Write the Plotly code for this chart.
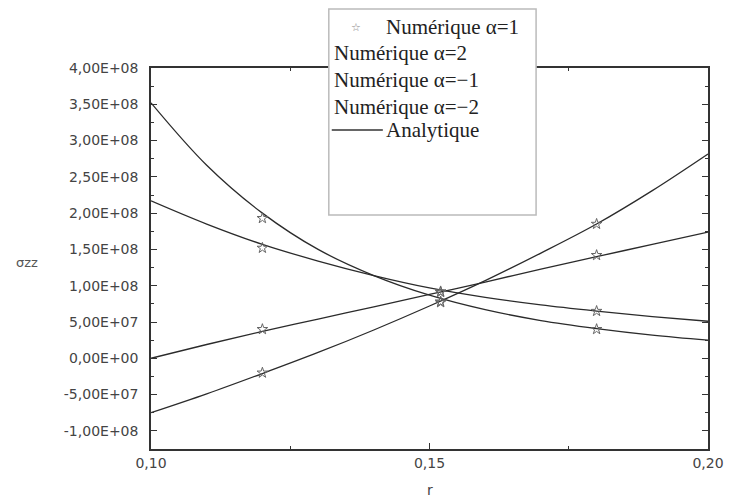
import plotly.graph_objects as go

# ---------------- data ----------------
r_analytic = [0.10, 0.11, 0.12, 0.13, 0.14, 0.15, 0.16, 0.17, 0.18, 0.19, 0.20]
an_a1  = [0.0, 0.19e8, 0.37e8, 0.54e8, 0.71e8, 0.88e8, 1.05e8, 1.23e8, 1.40e8, 1.57e8, 1.74e8]
an_a2  = [-0.75e8, -0.49e8, -0.21e8, 0.08e8, 0.39e8, 0.72e8, 1.07e8, 1.45e8, 1.85e8, 2.31e8, 2.815e8]
an_am1 = [2.17e8, 1.85e8, 1.57e8, 1.34e8, 1.14e8, 0.97e8, 0.84e8, 0.735e8, 0.65e8, 0.575e8, 0.51e8]
an_am2 = [3.52e8, 2.66e8, 2.00e8, 1.50e8, 1.14e8, 0.87e8, 0.67e8, 0.52e8, 0.41e8, 0.32e8, 0.25e8]

r_num = [0.12, 0.152, 0.18]
num_a1  = [0.40e8, 0.91e8, 1.42e8]
num_a2  = [-0.20e8, 0.77e8, 1.85e8]
num_am1 = [1.52e8, 0.92e8, 0.65e8]
num_am2 = [1.93e8, 0.78e8, 0.40e8]

y_tickvals = [4e8, 3.5e8, 3e8, 2.5e8, 2e8, 1.5e8, 1e8, 5e7, 0, -5e7, -1e8]
y_ticktext = ["4,00E+08", "3,50E+08", "3,00E+08", "2,50E+08", "2,00E+08", "1,50E+08",
              "1,00E+08", "5,00E+07", "0,00E+00", "-5,00E+07", "-1,00E+08"]
x_tickvals = [0.10, 0.15, 0.20]
x_ticktext = ["0,10", "0,15", "0,20"]

legend_labels = ["Numérique α=1", "Numérique α=2", "Numérique α=−1", "Numérique α=−2", "Analytique"]

# ---------------- layout geometry ----------------
W, H = 736, 501
L, R, T, B = 151, 718, 68, 449

def px(x):
    return (x - L) / (R - L)

def py(y):
    return (B - y) / (B - T)

LINE = "#2b2b2b"
fig = go.Figure()

for ys in [an_a1, an_a2, an_am1, an_am2]:
    fig.add_trace(go.Scatter(x=r_analytic, y=ys, mode="lines",
                             line=dict(color=LINE, width=1.3, shape="spline", smoothing=1.0),
                             showlegend=False, hoverinfo="skip"))

for ys in [num_a1, num_a2, num_am1, num_am2]:
    fig.add_trace(go.Scatter(x=r_num, y=ys, mode="markers",
                             marker=dict(symbol="star-open", size=8, color="#666",
                                         line=dict(width=1, color="#666")),
                             showlegend=False, hoverinfo="skip"))

axis_common = dict(
    showgrid=False, zeroline=False, showline=True, linecolor="#333", linewidth=1.5,
    mirror="ticks", ticks="inside", ticklen=6, tickwidth=1, tickcolor="#333",
    tickfont=dict(family="DejaVu Sans", size=14, color="#444"),
)

fig.update_xaxes(range=[0.10, 0.20], tickmode="array", tickvals=x_tickvals, ticktext=x_ticktext,
                 minor=dict(tickmode="linear", tick0=0.10, dtick=0.025, ticks="inside",
                            ticklen=3, tickcolor="#333"),
                 **axis_common)
fig.update_yaxes(range=[-1.25e8, 4e8], tickmode="array", tickvals=y_tickvals, ticktext=y_ticktext,
                 ticklabelstandoff=8,
                 minor=dict(tickmode="linear", tick0=0, dtick=2.5e7, ticks="inside",
                            ticklen=3, tickcolor="#333"),
                 **axis_common)

# legend box
fig.add_shape(type="rect", xref="paper", yref="paper",
              x0=px(332), x1=px(543), y0=py(215), y1=py(9),
              fillcolor="white", line=dict(color="#bbbbbb", width=1.5), layer="above")
fig.add_shape(type="line", xref="paper", yref="paper",
              x0=px(335), x1=px(387), y0=py(130), y1=py(130),
              line=dict(color="#333", width=1.5), layer="above")

leg_font = dict(family="Liberation Serif", size=21, color="#222")
fig.add_annotation(xref="paper", yref="paper", x=px(360), y=py(27), text="☆",
                   showarrow=False, font=dict(family="DejaVu Sans", size=11, color="#888"),
                   xanchor="center", yanchor="middle")
rows = [(388, 27), (335, 53), (335, 80), (335, 107), (388, 130)]
for (xx, yy), lab in zip(rows, legend_labels):
    fig.add_annotation(xref="paper", yref="paper", x=px(xx), y=py(yy), text=lab,
                       showarrow=False, font=leg_font, xanchor="left", yanchor="middle")

# axis titles
fig.add_annotation(xref="paper", yref="paper", x=px(25), y=py(262), text="σzz",
                   showarrow=False, font=dict(family="DejaVu Sans", size=13, color="#555"),
                   xanchor="center", yanchor="middle")
fig.add_annotation(xref="paper", yref="paper", x=px(435), y=py(490), text="r",
                   showarrow=False, font=dict(family="DejaVu Sans", size=14, color="#444"),
                   xanchor="center", yanchor="middle")

fig.update_layout(width=W, height=H, margin=dict(l=L, r=W - R, t=T, b=H - B),
                  plot_bgcolor="white", paper_bgcolor="white", showlegend=False)

fig.write_html("out.html")
